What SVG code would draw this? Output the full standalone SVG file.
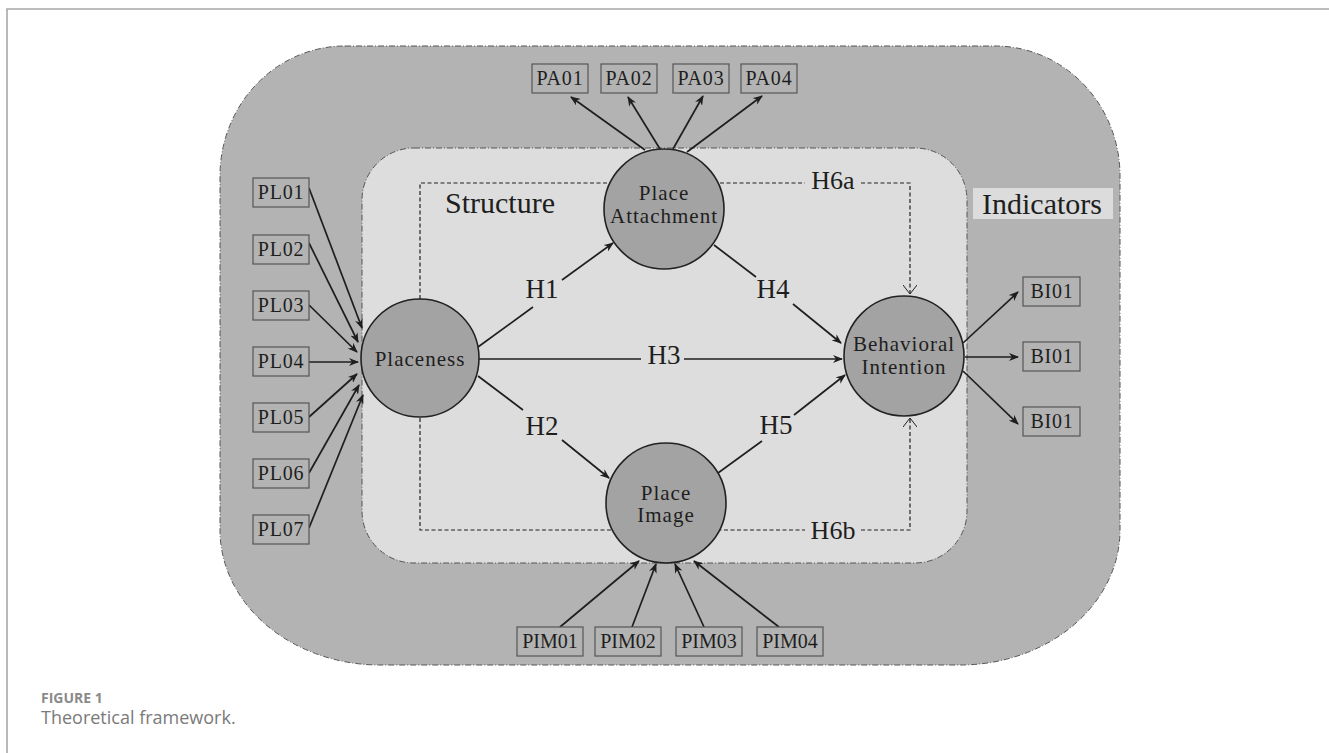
<svg xmlns="http://www.w3.org/2000/svg" width="1329" height="753" viewBox="0 0 1329 753">
<style>
.frame{stroke:#a8a8a8;stroke-width:1.6;fill:none}
.outer{fill:#b3b3b3;stroke:#555;stroke-width:1;stroke-dasharray:6 2 1 2}
.inner{fill:#dcdddc;stroke:#555;stroke-width:1;stroke-dasharray:6 2 1 2}
.box{fill:#b3b3b3;stroke:#555;stroke-width:1.2}
.bt{font-family:"Liberation Serif",serif;font-size:20px;fill:#1e1e1e;text-anchor:middle;letter-spacing:0.8px}
.node{fill:#a3a3a3;stroke:#222;stroke-width:1.6}
.nt{font-family:"Liberation Serif",serif;font-size:21px;fill:#1e1e1e;text-anchor:middle;letter-spacing:1px}
.h{font-family:"Liberation Serif",serif;font-size:27px;fill:#1e1e1e;text-anchor:middle}
.h6{font-family:"Liberation Serif",serif;font-size:26px;fill:#1e1e1e;text-anchor:middle}
.big{font-family:"Liberation Serif",serif;font-size:30px;fill:#1e1e1e}
.ln{stroke:#1e1e1e;stroke-width:1.7;fill:none}
.arr{marker-end:url(#ah)}
.dash{stroke:#222;stroke-width:1.2;fill:none;stroke-dasharray:4 2.5}
.cap1{font-family:"Open Sans","Noto Sans",sans-serif;font-size:14px;font-weight:bold;fill:#8a8a8a}
.cap2{font-family:"Open Sans","Noto Sans",sans-serif;font-size:18px;fill:#7a7a7a}
</style>
<defs>
<marker id="ah" viewBox="0 0 10 8" refX="9" refY="4" markerWidth="10" markerHeight="8" markerUnits="userSpaceOnUse" orient="auto">
<path d="M0,0 L10,4 L0,8 L3,4 Z" fill="#1e1e1e"/>
</marker>
<marker id="va" viewBox="0 0 10 14" refX="9" refY="7" markerWidth="10" markerHeight="14" markerUnits="userSpaceOnUse" orient="auto">
<path d="M0,0 L9,7 L0,14" fill="none" stroke="#222" stroke-width="1"/>
</marker>
</defs>

<g id="frame">
<path class="frame" d="M7,753 V9 H1329"/>
</g>

<g id="indicators-area">
<path class="outer" d="M345,46 L995,46 A125 130 0 0 1 1120,176 L1120,530 A160 135 0 0 1 960,665 L380,665 A160 135 0 0 1 220,530 L220,176 A125 130 0 0 1 345,46 Z"/>
<rect x="973" y="188" width="140" height="31" fill="#dcdcdc"/>
<text class="big" x="982" y="214">Indicators</text>
</g>

<g id="structure-area">
<rect class="inner" x="362" y="148" width="605" height="415" rx="52" ry="52"/>
<text class="big" x="445" y="213">Structure</text>
</g>

<g id="connectors">
<path class="dash" d="M420,299 V183 H805"/>
<path class="dash" d="M861,183 H910 V294" marker-end="url(#va)"/>
<path class="dash" d="M420,418 V530 H805"/>
<path class="dash" d="M861,530 H910 V418" marker-end="url(#va)"/>
<text class="h6" x="833" y="189">H6a</text>
<text class="h6" x="833" y="539">H6b</text>
<line class="ln arr" x1="309" y1="188" x2="362" y2="328"/>
<line class="ln arr" x1="309" y1="243" x2="358" y2="342"/>
<line class="ln arr" x1="309" y1="305" x2="357" y2="352"/>
<line class="ln arr" x1="309" y1="362" x2="358" y2="362"/>
<line class="ln arr" x1="309" y1="417" x2="357" y2="374"/>
<line class="ln arr" x1="309" y1="473" x2="359" y2="385"/>
<line class="ln arr" x1="309" y1="528" x2="363" y2="395"/>
<line class="ln arr" x1="645" y1="150" x2="571" y2="97"/>
<line class="ln arr" x1="660" y1="149" x2="628" y2="97"/>
<line class="ln arr" x1="673" y1="149" x2="703" y2="96"/>
<line class="ln arr" x1="687" y1="152" x2="762" y2="96"/>
<line class="ln arr" x1="560" y1="627" x2="639" y2="561"/>
<line class="ln arr" x1="632" y1="627" x2="656" y2="564"/>
<line class="ln arr" x1="704" y1="627" x2="675" y2="564"/>
<line class="ln arr" x1="779" y1="627" x2="694" y2="561"/>
<line class="ln arr" x1="963" y1="343" x2="1018" y2="292"/>
<line class="ln arr" x1="965" y1="357" x2="1018" y2="357"/>
<line class="ln arr" x1="963" y1="371" x2="1018" y2="424"/>
<line class="ln" x1="478" y1="347" x2="533" y2="307"/>
<line class="ln arr" x1="562" y1="280" x2="613" y2="243"/>
<text class="h" x="542" y="298">H1</text>
<line class="ln" x1="478" y1="376" x2="523" y2="410"/>
<line class="ln arr" x1="562" y1="440" x2="609" y2="478"/>
<text class="h" x="542" y="435">H2</text>
<line class="ln" x1="479" y1="359" x2="641" y2="359"/>
<line class="ln arr" x1="684" y1="359" x2="842" y2="359"/>
<text class="h" x="664" y="364">H3</text>
<line class="ln" x1="714" y1="245" x2="756" y2="277"/>
<line class="ln arr" x1="793" y1="304" x2="841" y2="343"/>
<text class="h" x="773" y="298">H4</text>
<line class="ln" x1="718" y1="473" x2="762" y2="441"/>
<line class="ln arr" x1="794" y1="415" x2="845" y2="375"/>
<text class="h" x="776" y="434">H5</text>
</g>

<g id="placeness">
<circle class="node" cx="420" cy="358" r="59"/>
<text class="nt" x="420" y="366">Placeness</text>
</g>
<g id="place-attachment">
<circle class="node" cx="664" cy="209" r="60"/>
<text class="nt" x="664" y="200">Place</text>
<text class="nt" x="664" y="223">Attachment</text>
</g>
<g id="place-image">
<circle class="node" cx="666" cy="503" r="60"/>
<text class="nt" x="666" y="500">Place</text>
<text class="nt" x="666" y="522">Image</text>
</g>
<g id="behavioral-intention">
<circle class="node" cx="904" cy="356" r="60"/>
<text class="nt" x="904" y="351">Behavioral</text>
<text class="nt" x="904" y="374">Intention</text>
</g>

<g id="PL01"><rect class="box" x="253" y="178" width="56" height="29"/><text class="bt" x="281" y="199">PL01</text></g>
<g id="PL02"><rect class="box" x="253" y="235" width="56" height="29"/><text class="bt" x="281" y="256">PL02</text></g>
<g id="PL03"><rect class="box" x="253" y="291" width="56" height="29"/><text class="bt" x="281" y="312">PL03</text></g>
<g id="PL04"><rect class="box" x="253" y="347" width="56" height="29"/><text class="bt" x="281" y="368">PL04</text></g>
<g id="PL05"><rect class="box" x="253" y="403" width="56" height="29"/><text class="bt" x="281" y="424">PL05</text></g>
<g id="PL06"><rect class="box" x="253" y="459" width="56" height="29"/><text class="bt" x="281" y="480">PL06</text></g>
<g id="PL07"><rect class="box" x="253" y="515" width="56" height="29"/><text class="bt" x="281" y="536">PL07</text></g>

<g id="PA01"><rect class="box" x="532" y="64" width="56" height="29"/><text class="bt" x="560" y="85">PA01</text></g>
<g id="PA02"><rect class="box" x="601" y="64" width="56" height="29"/><text class="bt" x="629" y="85">PA02</text></g>
<g id="PA03"><rect class="box" x="673" y="64" width="56" height="29"/><text class="bt" x="701" y="85">PA03</text></g>
<g id="PA04"><rect class="box" x="741" y="64" width="56" height="29"/><text class="bt" x="769" y="85">PA04</text></g>

<g id="PIM01"><rect class="box" x="517" y="627" width="66" height="29"/><text class="bt" x="550" y="648" style="letter-spacing:0">PIM01</text></g>
<g id="PIM02"><rect class="box" x="595" y="627" width="66" height="29"/><text class="bt" x="628" y="648" style="letter-spacing:0">PIM02</text></g>
<g id="PIM03"><rect class="box" x="676" y="627" width="66" height="29"/><text class="bt" x="709" y="648" style="letter-spacing:0">PIM03</text></g>
<g id="PIM04"><rect class="box" x="757" y="627" width="66" height="29"/><text class="bt" x="790" y="648" style="letter-spacing:0">PIM04</text></g>

<g id="BI01a"><rect class="box" x="1023" y="277" width="57" height="29"/><text class="bt" x="1052" y="298">BI01</text></g>
<g id="BI01b"><rect class="box" x="1023" y="342" width="57" height="29"/><text class="bt" x="1052" y="363">BI01</text></g>
<g id="BI01c"><rect class="box" x="1023" y="407" width="57" height="29"/><text class="bt" x="1052" y="428">BI01</text></g>

<g id="caption">
<text class="cap1" x="41" y="703">FIGURE 1</text>
<text class="cap2" x="41" y="724">Theoretical framework.</text>
</g>
</svg>
